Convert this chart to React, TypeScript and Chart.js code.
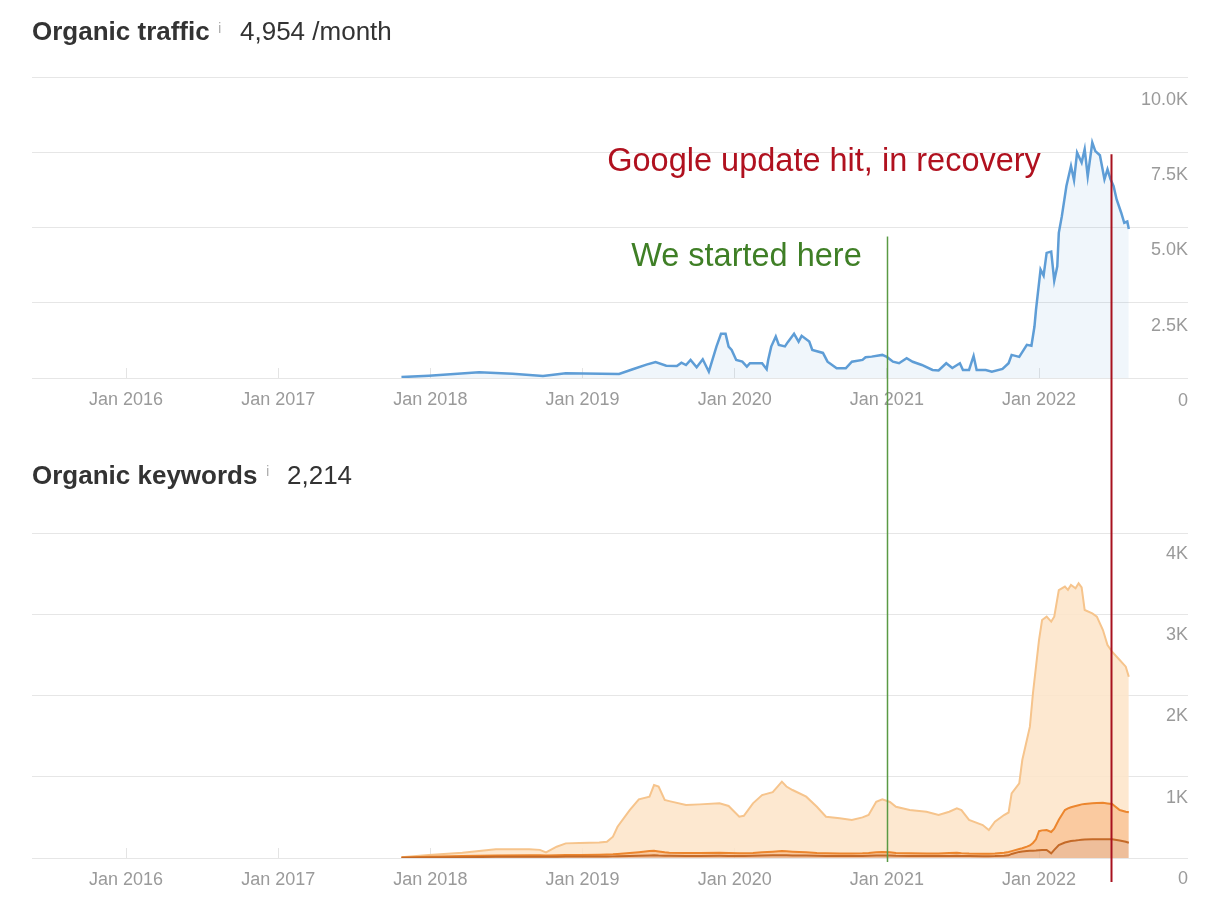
import React, { useEffect, useRef } from 'react';
import { Chart, registerables } from 'chart.js';

Chart.register(...registerables);

const FONT = '"Liberation Sans", Arial, Helvetica, sans-serif';
Chart.defaults.font.family = FONT;

// ---- axis ranges / ticks ----
const xMin = 2015.382;
const xMax = 2022.979;
const yearTicks = [2016, 2017, 2018, 2019, 2020, 2021, 2022];
const trafficYTicks = [0, 2500, 5000, 7500, 10000];
const keywordYTicks = [0, 1000, 2000, 3000, 4000];

// ---- Organic traffic (decimal year, visits / month) ----
const trafficDates = [
  2017.81, 2017.99, 2018.32, 2018.54, 2018.74, 2018.89, 2019.24, 2019.33, 2019.42, 2019.48,
  2019.55, 2019.62, 2019.65, 2019.68, 2019.71, 2019.75, 2019.79, 2019.83, 2019.88, 2019.91,
  2019.94, 2019.96, 2019.98, 2020.01, 2020.05, 2020.08, 2020.1, 2020.18, 2020.21, 2020.22,
  2020.24, 2020.27, 2020.29, 2020.33, 2020.35, 2020.39, 2020.42, 2020.44, 2020.49, 2020.51,
  2020.58, 2020.61, 2020.67, 2020.73, 2020.77, 2020.84, 2020.86, 2020.9, 2020.97, 2021.0,
  2021.04, 2021.08, 2021.13, 2021.17, 2021.23, 2021.3, 2021.34, 2021.39, 2021.43, 2021.48,
  2021.5, 2021.54, 2021.57, 2021.59, 2021.65, 2021.69, 2021.76, 2021.8, 2021.82, 2021.87,
  2021.92, 2021.95, 2021.97, 2021.98, 2021.99, 2022.01, 2022.03, 2022.05, 2022.08, 2022.1,
  2022.12, 2022.13, 2022.15, 2022.18, 2022.21, 2022.23, 2022.25, 2022.28, 2022.3, 2022.32,
  2022.35, 2022.37, 2022.4, 2022.43, 2022.45, 2022.47, 2022.49, 2022.51, 2022.54, 2022.56,
  2022.58, 2022.59,
];
const trafficValues = [
  30, 77, 190, 143, 67, 157, 133, 290, 443, 533,
  410, 400, 510, 430, 600, 357, 623, 210, 1043, 1467,
  1467, 1043, 933, 600, 543, 377, 490, 490, 290, 600,
  1043, 1377, 1100, 1050, 1200, 1467, 1210, 1400, 1210, 933,
  833, 543, 323, 323, 543, 600, 690, 710, 767, 700,
  543, 490, 657, 540, 433, 267, 250, 490, 330, 490,
  267, 267, 733, 267, 267, 210, 300, 490, 767, 700,
  1100, 1070, 1710, 2267, 2710, 3600, 3400, 4157, 4200, 3233,
  3710, 4823, 5377, 6377, 7043, 6570, 7490, 7157, 7600, 6700,
  7823, 7540, 7400, 6600, 6933, 6600, 6377, 5933, 5490, 5157,
  5200, 4954,
];

// ---- Organic keywords (cumulative bands) ----
const kwDates = [
  2017.81, 2017.99, 2018.21, 2018.43, 2018.65, 2018.72, 2018.76, 2018.83, 2018.89, 2018.98,
  2019.11, 2019.16, 2019.2, 2019.23, 2019.31, 2019.37, 2019.44, 2019.47, 2019.5, 2019.54,
  2019.57, 2019.68, 2019.77, 2019.9, 2019.96, 2020.03, 2020.06, 2020.12, 2020.18, 2020.25,
  2020.31, 2020.34, 2020.38, 2020.47, 2020.54, 2020.6, 2020.69, 2020.77, 2020.84, 2020.88,
  2020.93, 2020.97, 2021.02, 2021.06, 2021.15, 2021.26, 2021.34, 2021.41, 2021.46, 2021.49,
  2021.54, 2021.63, 2021.67, 2021.71, 2021.77, 2021.8, 2021.82, 2021.87, 2021.89, 2021.92,
  2021.94, 2021.96, 2021.98, 2022.0, 2022.02, 2022.05, 2022.08, 2022.1, 2022.13, 2022.17,
  2022.19, 2022.21, 2022.24, 2022.26, 2022.28, 2022.3, 2022.35, 2022.38, 2022.42, 2022.45,
  2022.48, 2022.53, 2022.57, 2022.59,
];
const kwTotal = [
  10, 37, 65, 107, 107, 100, 70, 139, 180, 185,
  190, 201, 262, 385, 590, 722, 755, 898, 880, 714,
  700, 652, 660, 673, 640, 508, 520, 673, 775, 810,
  940, 880, 837, 755, 631, 508, 490, 468, 500, 529,
  693, 722, 690, 631, 591, 570, 529, 570, 611, 590,
  468, 406, 345, 447, 529, 560, 796, 919, 1206, 1452,
  1616, 2027, 2355, 2683, 2929, 2970, 2909, 2970, 3298, 3340,
  3300, 3360, 3320, 3381, 3330, 3052, 3011, 2970, 2806, 2622,
  2539, 2437, 2355, 2231,
];
const kwTop10 = [
  6, 15, 25, 32, 35, 35, 30, 35, 38, 38,
  40, 42, 45, 50, 62, 72, 85, 88, 80, 70,
  65, 62, 62, 65, 62, 58, 58, 62, 70, 78,
  85, 82, 78, 70, 62, 58, 55, 55, 58, 62,
  72, 75, 70, 62, 58, 55, 55, 62, 65, 60,
  55, 52, 52, 55, 65, 75, 85, 110, 120, 140,
  155, 185, 230, 330, 340, 345, 320, 360, 470, 590,
  610, 625, 640, 650, 660, 665, 673, 678, 680, 672,
  665, 590, 570, 562,
];
const kwTop3 = [
  3, 6, 10, 14, 15, 15, 14, 16, 17, 17,
  18, 18, 20, 22, 25, 28, 32, 33, 30, 28,
  27, 26, 26, 27, 26, 25, 25, 27, 30, 33,
  35, 34, 32, 30, 27, 25, 24, 24, 25, 27,
  30, 32, 30, 27, 25, 24, 24, 26, 27, 26,
  24, 23, 23, 24, 28, 33, 50, 75, 80, 85,
  88, 90, 92, 95, 97, 98, 57, 100, 160, 190,
  200, 210, 215, 220, 225, 228, 230, 230, 230, 230,
  230, 215, 200, 188,
];

// ---- annotations ----
const markerDates = [2021.0, 2022.475];
const markerLabels = ['We started here', 'Google update hit, in recovery'];
const markerLineColors = ['#5a9a44', '#a8121f'];
const markerTextColors = ['#3f7f26', '#b0111f'];
const markerLineWidths = [1.5, 2];
const markerLabelDates = [2020.835, 2022.012];
const markerLabelValues = [4033, 7170];
const markerTopValues = [4700, 7430];
const markerBelowPx = [4, 24];

const LABEL_COLOR = '#9a9a9a';
const GRID_COLOR = '#e6e6e6';

function makeMarkerPlugin(part: 'top' | 'bottom') {
  return {
    id: 'markers_' + part,
    afterDatasetsDraw(chart: any) {
      const { ctx, chartArea, scales } = chart;
      const x = scales.x;
      const y = scales.y;
      ctx.save();
      markerDates.forEach((d, i) => {
        const px = Math.round(x.getPixelForValue(d)) + 0.5;
        const top = part === 'top' ? y.getPixelForValue(markerTopValues[i]) : 0;
        const bottom = part === 'top' ? chart.height : chartArea.bottom + markerBelowPx[i];
        ctx.strokeStyle = markerLineColors[i];
        ctx.lineWidth = markerLineWidths[i];
        ctx.beginPath();
        ctx.moveTo(px, top);
        ctx.lineTo(px, bottom);
        ctx.stroke();
        if (part === 'top') {
          ctx.font = '32.5px ' + FONT;
          ctx.fillStyle = markerTextColors[i];
          ctx.textAlign = 'right';
          ctx.textBaseline = 'middle';
          ctx.fillText(
            markerLabels[i],
            x.getPixelForValue(markerLabelDates[i]),
            y.getPixelForValue(markerLabelValues[i])
          );
        }
      });
      ctx.restore();
    },
  };
}

function xAxis(height: number) {
  return {
    type: 'linear' as const,
    min: xMin,
    max: xMax,
    afterBuildTicks: (s: any) => {
      s.ticks = yearTicks.map((v) => ({ value: v }));
    },
    afterFit: (s: any) => {
      s.height = height;
    },
    ticks: {
      autoSkip: false,
      maxRotation: 0,
      color: LABEL_COLOR,
      font: { size: 18 },
      padding: 21,
      callback: (v: any) => 'Jan ' + v,
    },
    grid: { drawOnChartArea: false, drawTicks: true, tickLength: -10, color: '#e4e4e4' },
    border: { display: false },
  };
}

function yAxis(max: number, ticks: number[], fmt: (v: number) => string, offset: number) {
  return {
    position: 'right' as const,
    min: 0,
    max,
    afterBuildTicks: (s: any) => {
      s.ticks = ticks.map((v) => ({ value: v }));
    },
    afterFit: (s: any) => {
      s.width = 0;
    },
    ticks: {
      mirror: true,
      padding: 0,
      labelOffset: offset,
      color: LABEL_COLOR,
      font: { size: 18 },
      callback: (v: any) => fmt(Number(v)),
    },
    grid: { color: GRID_COLOR, drawTicks: false },
    border: { display: false },
  };
}

function TrafficChart() {
  const ref = useRef<HTMLCanvasElement>(null);
  useEffect(() => {
    const chart = new Chart(ref.current!, {
      type: 'line',
      data: {
        datasets: [
          {
            data: trafficDates.map((d, i) => ({ x: d, y: trafficValues[i] })),
            borderColor: '#5e9dd6',
            borderWidth: 2.5,
            backgroundColor: 'rgba(94,157,214,0.09)',
            fill: 'origin',
            pointRadius: 0,
            tension: 0,
          },
        ],
      },
      options: {
        animation: false,
        responsive: false,
        devicePixelRatio: 1,
        layout: { padding: { left: 32, right: 26, top: 77, bottom: 0 } },
        plugins: { legend: { display: false }, tooltip: { enabled: false } },
        scales: {
          x: xAxis(52),
          y: yAxis(10000, trafficYTicks, (v) => (v === 0 ? '0' : (v / 1000).toFixed(1) + 'K'), 23),
        },
      },
      plugins: [makeMarkerPlugin('top')],
    });
    return () => chart.destroy();
  }, []);
  return <canvas ref={ref} width={1214} height={430} style={{ display: 'block' }} />;
}

function KeywordsChart() {
  const ref = useRef<HTMLCanvasElement>(null);
  useEffect(() => {
    const pts = (arr: number[]) => kwDates.map((d, i) => ({ x: d, y: arr[i] }));
    const chart = new Chart(ref.current!, {
      type: 'line',
      data: {
        datasets: [
          {
            data: pts(kwTop3),
            borderColor: 'rgb(196,106,40)',
            borderWidth: 2,
            backgroundColor: 'rgba(232,168,120,0.75)',
            fill: 'origin',
            pointRadius: 0,
            tension: 0,
          },
          {
            data: pts(kwTop10),
            borderColor: 'rgb(236,134,46)',
            borderWidth: 2,
            backgroundColor: 'rgba(249,196,150,0.9)',
            fill: '-1',
            pointRadius: 0,
            tension: 0,
          },
          {
            data: pts(kwTotal),
            borderColor: 'rgb(246,196,140)',
            borderWidth: 2,
            backgroundColor: 'rgba(253,228,200,0.85)',
            fill: '-1',
            pointRadius: 0,
            tension: 0,
          },
        ],
      },
      options: {
        animation: false,
        responsive: false,
        devicePixelRatio: 1,
        layout: { padding: { left: 32, right: 26, top: 103, bottom: 0 } },
        plugins: { legend: { display: false }, tooltip: { enabled: false } },
        scales: {
          x: xAxis(48),
          y: yAxis(4000, keywordYTicks, (v) => (v === 0 ? '0' : v / 1000 + 'K'), 21),
        },
      },
      plugins: [makeMarkerPlugin('bottom')],
    });
    return () => chart.destroy();
  }, []);
  return <canvas ref={ref} width={1214} height={476} style={{ display: 'block' }} />;
}

const titleStyle: React.CSSProperties = {
  position: 'absolute',
  fontFamily: FONT,
  fontSize: 26,
  lineHeight: '30px',
  color: '#333',
  whiteSpace: 'nowrap',
};

export default function App() {
  return (
    <div
      style={{
        position: 'fixed',
        left: 0,
        top: 0,
        width: 1214,
        height: 906,
        background: '#fff',
        overflow: 'hidden',
      }}
    >
      <TrafficChart />
      <KeywordsChart />
      <div style={{ ...titleStyle, left: 32, top: 16, fontWeight: 'bold' }}>Organic traffic</div>
      <div style={{ ...titleStyle, left: 218, top: 13, fontSize: 15, color: '#b0b0b0' }}>i</div>
      <div style={{ ...titleStyle, left: 240, top: 16 }}>4,954 /month</div>
      <div style={{ ...titleStyle, left: 32, top: 460, fontWeight: 'bold' }}>Organic keywords</div>
      <div style={{ ...titleStyle, left: 266, top: 456, fontSize: 15, color: '#b0b0b0' }}>i</div>
      <div style={{ ...titleStyle, left: 287, top: 460 }}>2,214</div>
    </div>
  );
}
